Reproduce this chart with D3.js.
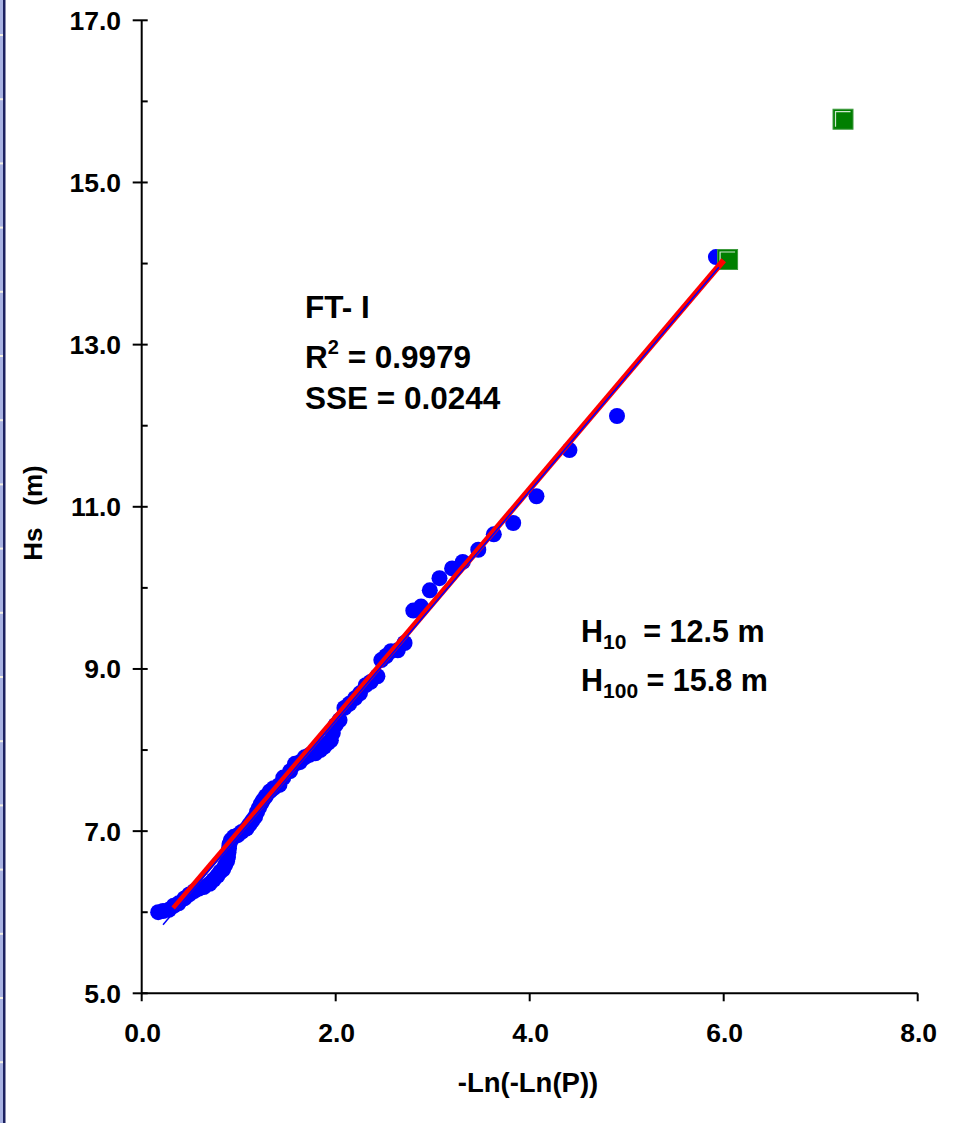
<!DOCTYPE html>
<html>
<head>
<meta charset="utf-8">
<script src="https://cdn.jsdelivr.net/npm/d3@7"></script>
<style>
  html, body { margin: 0; padding: 0; background: #ffffff; }
  svg { display: block; }
  text { font-family: "Liberation Sans", Arial, sans-serif; font-weight: bold; fill: #000; }
</style>
</head>
<body>
<script>
// Reduced variate -Ln(-Ln(P)) of each ranked observation
const reducedVariate = [
  0.17, 0.22, 0.28, 0.33, 0.38, 0.44, 0.49, 0.54, 0.59, 0.64,
  0.70, 0.74, 0.78, 0.81, 0.84, 0.86, 0.88, 0.89, 0.895, 0.90,
  0.905, 0.92, 0.95, 0.99, 1.03, 1.08, 1.11, 1.14, 1.17, 1.19,
  1.21, 1.23, 1.25, 1.28, 1.32, 1.36, 1.42, 1.46, 1.53, 1.58,
  1.63, 1.68, 1.73, 1.79, 1.84, 1.88, 1.92, 1.95, 1.97, 2.00,
  2.04, 2.09, 2.14, 2.20, 2.25, 2.31, 2.36, 2.43, 2.47, 2.52,
  2.57, 2.64, 2.71, 2.80, 2.88, 2.97, 3.07, 3.20, 3.31, 3.47,
  3.63, 3.83, 4.07, 4.41, 4.90, 5.92
];
// Observed significant wave height Hs (m)
const observedHs = [
  6.00, 6.015, 6.03, 6.08, 6.11, 6.17, 6.22, 6.26, 6.29, 6.31,
  6.35, 6.40, 6.45, 6.50, 6.53, 6.58, 6.63, 6.68, 6.74, 6.79,
  6.84, 6.89, 6.93, 6.95, 6.99, 7.03, 7.08, 7.13, 7.18, 7.24,
  7.29, 7.34, 7.38, 7.43, 7.49, 7.53, 7.57, 7.66, 7.74, 7.83,
  7.85, 7.91, 7.94, 7.96, 8.00, 8.04, 8.09, 8.12, 8.21, 8.31,
  8.37, 8.52, 8.57, 8.64, 8.70, 8.80, 8.84, 8.91, 9.11, 9.16,
  9.22, 9.23, 9.32, 9.72, 9.77, 9.97, 10.12, 10.24, 10.32, 10.47,
  10.66, 10.80, 11.13, 11.70, 12.12, 14.08
];
// Return-period estimates (reduced variate, Hs)
const returnX = [6.04, 7.23];
const returnHs = [14.05, 15.78];

// FT-I fitted lines: [x0, x1], intercept, slope
const fitRedX = [0.33, 6.0];
const fitRed = { a: 5.58, b: 1.41 };
const fitBlueX = [0.22, 5.95];
const fitBlue = { a: 5.535, b: 1.415 };

// Axis ticks
const xTicks = [0, 2, 4, 6, 8];
const yMajor = [5, 7, 9, 11, 13, 15, 17];
const yMinor = [6, 8, 10, 12, 14, 16];

const W = 954, H = 1123;
const svg = d3.select("body").append("svg").attr("width", W).attr("height", H);

// Decorative page edge on the left
svg.append("rect").attr("x", 0).attr("y", 0).attr("width", 3).attr("height", H).attr("fill", "#a9b3e3");
svg.append("rect").attr("x", 3).attr("y", 0).attr("width", 2.5).attr("height", H).attr("fill", "#1c2160");
svg.selectAll("rect.notch").data(d3.range(35, H, 64.2)).join("rect")
  .attr("class", "notch").attr("x", 0).attr("y", d => d - 1).attr("width", 3).attr("height", 2).attr("fill", "#f4f1e4");

const x = d3.scaleLinear().domain([0, 8]).range([141.7, 917.7]);
const y = d3.scaleLinear().domain([5, 17]).range([993.3, 20.3]);

// Axes
const ax = svg.append("g").attr("stroke", "#000").attr("stroke-width", 2);
ax.append("line").attr("x1", x(0)).attr("x2", x(0)).attr("y1", y(17)).attr("y2", y(5) + 8);
ax.append("line").attr("x1", x(0)).attr("x2", x(8)).attr("y1", y(5)).attr("y2", y(5));
ax.selectAll("line.ymaj").data(yMajor).join("line").attr("class", "ymaj")
  .attr("x1", x(0) - 9).attr("x2", x(0) + 6).attr("y1", d => y(d)).attr("y2", d => y(d));
ax.selectAll("line.ymin").data(yMinor).join("line").attr("class", "ymin")
  .attr("x1", x(0)).attr("x2", x(0) + 6).attr("y1", d => y(d)).attr("y2", d => y(d));
ax.selectAll("line.xmaj").data(xTicks.slice(1)).join("line").attr("class", "xmaj")
  .attr("x1", d => x(d)).attr("x2", d => x(d)).attr("y1", y(5)).attr("y2", y(5) + 8);

svg.selectAll("text.ylab").data(yMajor).join("text").attr("class", "ylab")
  .attr("x", 121).attr("y", d => y(d) + 9.5).attr("text-anchor", "end")
  .attr("font-size", 26.5).text(d => d3.format(".1f")(d));
svg.selectAll("text.xlab").data(xTicks).join("text").attr("class", "xlab")
  .attr("x", d => x(d) + 1).attr("y", 1042).attr("text-anchor", "middle")
  .attr("font-size", 26.5).text(d => d3.format(".1f")(d));

svg.append("text").attr("transform", `translate(42,513) rotate(-90)`)
  .attr("text-anchor", "middle").attr("font-size", 26).attr("xml:space", "preserve").text("Hs   (m)");
svg.append("text").attr("x", 528).attr("y", 1092).attr("text-anchor", "middle")
  .attr("font-size", 27.5).text("-Ln(-Ln(P))");

// Observations
const obs = reducedVariate.map((v, i) => [v, observedHs[i]]);
svg.append("g").selectAll("circle").data(obs).join("circle")
  .attr("cx", d => x(d[0])).attr("cy", d => y(d[1])).attr("r", 8).attr("fill", "#0000ff");

// Return-period markers
const rp = returnX.map((v, i) => [v, returnHs[i]]);
const sq = svg.append("g").selectAll("g").data(rp).join("g")
  .attr("transform", d => `translate(${x(d[0])},${y(d[1])})`);
sq.append("rect").attr("x", -10).attr("y", -10).attr("width", 20).attr("height", 20)
  .attr("fill", "#007f00").attr("stroke", "#3f9a3f").attr("stroke-width", 1);
sq.append("polyline").attr("points", "-7.5,7.5 -7.5,-7.5 7.5,-7.5").attr("fill", "none")
  .attr("stroke", "#cfe8cf").attr("stroke-width", 1.2);

// Fitted FT-I lines
const line = d3.line().x(d => x(d[0])).y(d => y(d[1]));
svg.append("path").datum(fitRedX.map(v => [v, fitRed.a + fitRed.b * v]))
  .attr("d", line).attr("stroke", "#ff0000").attr("stroke-width", 6).attr("fill", "none");
svg.append("path").datum(fitBlueX.map(v => [v, fitBlue.a + fitBlue.b * v]))
  .attr("d", line).attr("stroke", "#0000ff").attr("stroke-width", 1.5).attr("fill", "none");

// Fit statistics
const stats = svg.append("g").attr("font-size", 31.5);
stats.append("text").attr("x", 305).attr("y", 318).text("FT- I");
const r2 = stats.append("text").attr("x", 305).attr("y", 368).attr("xml:space", "preserve");
r2.append("tspan").text("R");
r2.append("tspan").attr("font-size", 20).attr("dy", -14).text("2");
r2.append("tspan").attr("dy", 14).text(" = 0.9979");
stats.append("text").attr("x", 305).attr("y", 409).text("SSE = 0.0244");

// Design wave heights
const dw = svg.append("g").attr("font-size", 30.5);
const h10 = dw.append("text").attr("x", 581).attr("y", 642).attr("xml:space", "preserve");
h10.append("tspan").text("H");
h10.append("tspan").attr("font-size", 21).attr("dy", 7).text("10");
h10.append("tspan").attr("dy", -7).text("  = 12.5 m");
const h100 = dw.append("text").attr("x", 581).attr("y", 691).attr("xml:space", "preserve");
h100.append("tspan").text("H");
h100.append("tspan").attr("font-size", 21).attr("dy", 7).text("100");
h100.append("tspan").attr("dy", -7).text(" = 15.8 m");
</script>
</body>
</html>
